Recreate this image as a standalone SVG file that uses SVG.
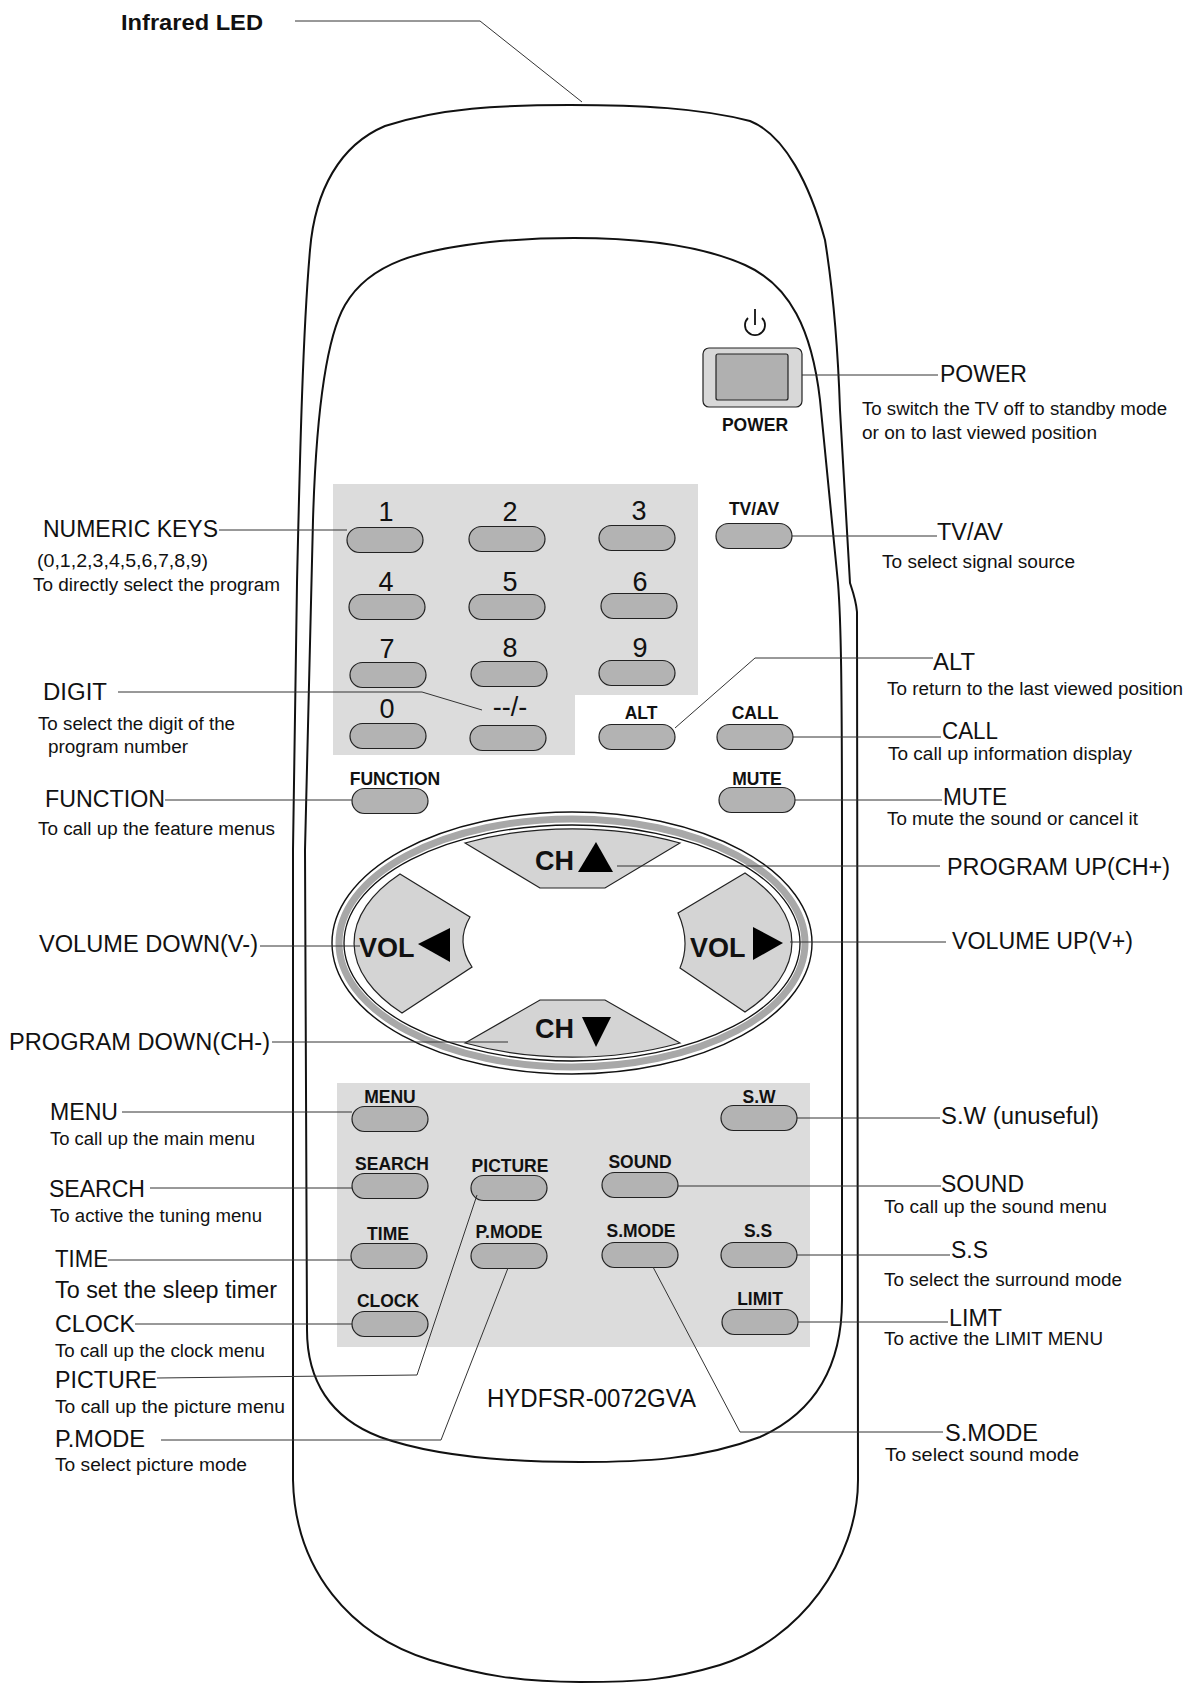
<svg xmlns="http://www.w3.org/2000/svg" xmlns:xlink="http://www.w3.org/1999/xlink" width="1189" height="1683" viewBox="0 0 1189 1683">
<style>
.lbl{font-family:"Liberation Sans",Arial,sans-serif;font-size:23px;fill:#111}
.desc{font-family:"Liberation Sans",Arial,sans-serif;font-size:18px;fill:#111}
.key{font-family:"Liberation Sans",Arial,sans-serif;font-size:17.5px;font-weight:bold;fill:#111;text-anchor:middle}
.dig{font-family:"Liberation Sans",Arial,sans-serif;font-size:27px;fill:#111;text-anchor:middle}
.big{font-family:"Liberation Sans",Arial,sans-serif;font-size:27px;font-weight:bold;fill:#111}
.outline{fill:none;stroke:#111;stroke-width:2}
.conn{fill:none;stroke:#333;stroke-width:1}
.panel{fill:#dcdcdc}
.pad{fill:#d4d4d4;stroke:#222;stroke-width:1.2}
.tri{fill:#000}
</style>
<defs>
<rect id="pill" x="-38" y="-12.5" width="76" height="25" rx="12.5" ry="12.5" fill="#b3b3b3" stroke="#222" stroke-width="1.2"/>
</defs>
<rect width="1189" height="1683" fill="#fff"/>

<g id="remote-body">
<path class="outline" d="M 570 105 C 640 105 700 108 750 121 C 785 135 810 185 825 240 C 833 290 838 350 840 410 L 850 583 C 853 592 856 600 857 612 L 858 1480 C 858 1560 800 1640 720 1665 C 670 1680 640 1682 580 1682 C 520 1682 480 1675 430 1660 C 350 1635 295 1570 293 1480 L 293 850 L 297 583 C 300 450 303 330 310 250 C 315 190 340 145 385 126 C 440 108 500 105 570 105 Z"/>
<path class="outline" d="M 574 238 C 640 238 700 245 745 265 C 790 285 812 330 820 400 L 838 583 C 841 620 842 680 842 850 L 842 1300 C 842 1360 820 1410 760 1437 C 700 1460 640 1462 580 1462 C 500 1462 430 1455 380 1437 C 330 1418 307 1380 307 1330 L 305 850 L 313 520 C 316 420 325 340 345 305 C 370 262 420 250 490 242 C 520 239 550 238 574 238 Z"/>
<polygon class="panel" points="333,484 698,484 698,695 575,695 575,755 333,755"/>
<rect class="panel" x="337" y="1083" width="473" height="264"/>
<text id="model" x="487" y="1407" font-family="Liberation Sans, Arial, sans-serif" font-size="26" fill="#111" textLength="209" lengthAdjust="spacingAndGlyphs">HYDFSR-0072GVA</text>
</g>

<g id="led-label">
<text x="121" y="30" font-family="Liberation Sans, Arial, sans-serif" font-size="22" font-weight="bold" fill="#111" textLength="142" lengthAdjust="spacingAndGlyphs">Infrared LED</text>
</g>

<g id="power">
<path d="M 748 318 A 10 10 0 1 0 762 318" fill="none" stroke="#111" stroke-width="1.8"/>
<line x1="755" y1="309" x2="755" y2="325" stroke="#111" stroke-width="1.8"/>
<rect x="703" y="348" width="99" height="59" rx="6" fill="#d8d8d8" stroke="#222" stroke-width="1.2"/>
<rect x="716" y="354" width="72" height="46" rx="2" fill="#b0b0b0" stroke="#222" stroke-width="1.2"/>
<text class="key" x="755" y="431">POWER</text>
</g>

<g id="btn-1"><use xlink:href="#pill" x="385" y="540"/><text class="dig" x="386" y="521">1</text></g>
<g id="btn-2"><use xlink:href="#pill" x="507" y="539"/><text class="dig" x="510" y="521">2</text></g>
<g id="btn-3"><use xlink:href="#pill" x="637" y="538"/><text class="dig" x="639" y="520">3</text></g>
<g id="btn-tvav"><use xlink:href="#pill" x="754" y="536"/><text class="key" x="754" y="515">TV/AV</text></g>
<g id="btn-4"><use xlink:href="#pill" x="387" y="607"/><text class="dig" x="386" y="591">4</text></g>
<g id="btn-5"><use xlink:href="#pill" x="507" y="607"/><text class="dig" x="510" y="591">5</text></g>
<g id="btn-6"><use xlink:href="#pill" x="639" y="606"/><text class="dig" x="640" y="591">6</text></g>
<g id="btn-7"><use xlink:href="#pill" x="388" y="675"/><text class="dig" x="387" y="658">7</text></g>
<g id="btn-8"><use xlink:href="#pill" x="509" y="674"/><text class="dig" x="510" y="657">8</text></g>
<g id="btn-9"><use xlink:href="#pill" x="637" y="673"/><text class="dig" x="640" y="657">9</text></g>
<g id="btn-0"><use xlink:href="#pill" x="388" y="736"/><text class="dig" x="387" y="718">0</text></g>
<g id="btn-digit"><use xlink:href="#pill" x="508" y="738"/><text class="dig" x="510" y="716">--/-</text></g>
<g id="btn-alt"><use xlink:href="#pill" x="637" y="737"/><text class="key" x="641" y="719">ALT</text></g>
<g id="btn-call"><use xlink:href="#pill" x="755" y="737"/><text class="key" x="755" y="719">CALL</text></g>
<g id="btn-function"><use xlink:href="#pill" x="390" y="801"/><text class="key" x="395" y="785">FUNCTION</text></g>
<g id="btn-mute"><use xlink:href="#pill" x="757" y="800"/><text class="key" x="757" y="785">MUTE</text></g>

<g id="dpad">
<ellipse cx="572" cy="943" rx="240" ry="131" fill="#fff" stroke="#111" stroke-width="1.4"/>
<ellipse cx="572" cy="943" rx="233" ry="124" fill="none" stroke="#a8a8a8" stroke-width="7"/>
<ellipse cx="572" cy="943" rx="228" ry="118" fill="#fff" stroke="#111" stroke-width="1.3"/>
</g>
<g id="btn-chup">
<path class="pad" d="M 540 888 L 465 843 A 222 113 0 0 1 680 843 L 605 888 Z"/>
<text class="big" x="535" y="870">CH</text>
<polygon class="tri" points="578,872 613,872 596,842"/>
</g>
<g id="btn-chdown">
<path class="pad" d="M 540 1000 L 605 1000 L 680 1043 A 222 113 0 0 1 465 1043 Z"/>
<text class="big" x="535" y="1038">CH</text>
<polygon class="tri" points="582,1017 611,1017 596,1047"/>
</g>
<g id="btn-voldown">
<path class="pad" d="M 400 874 L 470 917 Q 455 942 472 967 L 402 1013 A 222 113 0 0 1 400 874 Z"/>
<text class="big" x="359" y="957">VOL</text>
<polygon class="tri" points="418,944 450,928 450,962"/>
</g>
<g id="btn-volup">
<path class="pad" d="M 745 873 L 678 913 Q 691 942 680 968 L 745 1012 A 222 113 0 0 0 745 873 Z"/>
<text class="big" x="690" y="957">VOL</text>
<polygon class="tri" points="753,927 753,960 783,943"/>
</g>

<g id="btn-menu"><use xlink:href="#pill" x="390" y="1119"/><text class="key" x="390" y="1103">MENU</text></g>
<g id="btn-sw"><use xlink:href="#pill" x="759" y="1118"/><text class="key" x="759" y="1103">S.W</text></g>
<g id="btn-search"><use xlink:href="#pill" x="390" y="1186"/><text class="key" x="392" y="1170">SEARCH</text></g>
<g id="btn-picture"><use xlink:href="#pill" x="509" y="1188"/><text class="key" x="510" y="1172">PICTURE</text></g>
<g id="btn-sound"><use xlink:href="#pill" x="640" y="1185"/><text class="key" x="640" y="1168">SOUND</text></g>
<g id="btn-time"><use xlink:href="#pill" x="389" y="1256"/><text class="key" x="388" y="1240">TIME</text></g>
<g id="btn-pmode"><use xlink:href="#pill" x="509" y="1256"/><text class="key" x="509" y="1238">P.MODE</text></g>
<g id="btn-smode"><use xlink:href="#pill" x="640" y="1255"/><text class="key" x="641" y="1237">S.MODE</text></g>
<g id="btn-ss"><use xlink:href="#pill" x="759" y="1255"/><text class="key" x="758" y="1237">S.S</text></g>
<g id="btn-clock"><use xlink:href="#pill" x="390" y="1324"/><text class="key" x="388" y="1307">CLOCK</text></g>
<g id="btn-limit"><use xlink:href="#pill" x="760" y="1322"/><text class="key" x="760" y="1305">LIMIT</text></g>

<g id="connectors">
<path class="conn" d="M 295 21 L 480 21 L 582 102"/>
<path class="conn" d="M 802 375 L 938 375"/>
<path class="conn" d="M 219 530 L 347 530"/>
<path class="conn" d="M 792 536 L 937 536"/>
<path class="conn" d="M 118 692 L 422 692 L 482 710"/>
<path class="conn" d="M 675 728 L 755 658 L 933 658"/>
<path class="conn" d="M 793 737 L 941 737"/>
<path class="conn" d="M 165 800 L 352 800"/>
<path class="conn" d="M 795 800 L 942 800"/>
<path class="conn" d="M 617 866 L 940 866"/>
<path class="conn" d="M 260 946 L 360 946"/>
<path class="conn" d="M 790 942 L 946 942"/>
<path class="conn" d="M 272 1042 L 508 1042"/>
<path class="conn" d="M 122 1112 L 352 1112"/>
<path class="conn" d="M 797 1118 L 940 1118"/>
<path class="conn" d="M 150 1188 L 352 1188"/>
<path class="conn" d="M 678 1186 L 941 1186"/>
<path class="conn" d="M 108 1260 L 352 1260"/>
<path class="conn" d="M 797 1255 L 950 1255"/>
<path class="conn" d="M 135 1324 L 352 1324"/>
<path class="conn" d="M 798 1322 L 948 1322"/>
<path class="conn" d="M 157 1378 L 417 1375 L 477 1195"/>
<path class="conn" d="M 161 1440 L 441 1440 L 508 1268"/>
<path class="conn" d="M 653 1267 L 740 1432 L 943 1432"/>
</g>

<g id="labels-left">
<text class="lbl" x="43" y="537" textLength="175" lengthAdjust="spacingAndGlyphs">NUMERIC KEYS</text>
<text class="desc" x="37" y="567" textLength="171" lengthAdjust="spacingAndGlyphs">(0,1,2,3,4,5,6,7,8,9)</text>
<text class="desc" x="33" y="591" textLength="247" lengthAdjust="spacingAndGlyphs">To directly select the program</text>
<text class="lbl" x="43" y="700" textLength="64" lengthAdjust="spacingAndGlyphs">DIGIT</text>
<text class="desc" x="38" y="730" textLength="197" lengthAdjust="spacingAndGlyphs">To select the digit of the</text>
<text class="desc" x="48" y="753" textLength="140" lengthAdjust="spacingAndGlyphs">program number</text>
<text class="lbl" x="45" y="807" textLength="120" lengthAdjust="spacingAndGlyphs">FUNCTION</text>
<text class="desc" x="38" y="835" textLength="237" lengthAdjust="spacingAndGlyphs">To call up the feature menus</text>
<text class="lbl" x="39" y="952" textLength="219" lengthAdjust="spacingAndGlyphs">VOLUME DOWN(V-)</text>
<text class="lbl" x="9" y="1050" textLength="261" lengthAdjust="spacingAndGlyphs">PROGRAM DOWN(CH-)</text>
<text class="lbl" x="50" y="1120" textLength="68" lengthAdjust="spacingAndGlyphs">MENU</text>
<text class="desc" x="50" y="1145" textLength="205" lengthAdjust="spacingAndGlyphs">To call up the main menu</text>
<text class="lbl" x="49" y="1197" textLength="96" lengthAdjust="spacingAndGlyphs">SEARCH</text>
<text class="desc" x="50" y="1222" textLength="212" lengthAdjust="spacingAndGlyphs">To active the tuning menu</text>
<text class="lbl" x="55" y="1267" textLength="53" lengthAdjust="spacingAndGlyphs">TIME</text>
<text class="lbl" x="55" y="1298" textLength="222" lengthAdjust="spacingAndGlyphs">To set the sleep timer</text>
<text class="lbl" x="55" y="1332" textLength="80" lengthAdjust="spacingAndGlyphs">CLOCK</text>
<text class="desc" x="55" y="1357" textLength="210" lengthAdjust="spacingAndGlyphs">To call up the clock menu</text>
<text class="lbl" x="55" y="1388" textLength="102" lengthAdjust="spacingAndGlyphs">PICTURE</text>
<text class="desc" x="55" y="1413" textLength="230" lengthAdjust="spacingAndGlyphs">To call up the picture  menu</text>
<text class="lbl" x="55" y="1447" textLength="90" lengthAdjust="spacingAndGlyphs">P.MODE</text>
<text class="desc" x="55" y="1471" textLength="192" lengthAdjust="spacingAndGlyphs">To select picture mode</text>
</g>

<g id="labels-right">
<text class="lbl" x="940" y="382" textLength="87" lengthAdjust="spacingAndGlyphs">POWER</text>
<text class="desc" x="862" y="415" textLength="305" lengthAdjust="spacingAndGlyphs">To switch the TV off to standby mode</text>
<text class="desc" x="862" y="439" textLength="235" lengthAdjust="spacingAndGlyphs">or on to last viewed position</text>
<text class="lbl" x="937" y="540" textLength="66" lengthAdjust="spacingAndGlyphs">TV/AV</text>
<text class="desc" x="882" y="568" textLength="193" lengthAdjust="spacingAndGlyphs">To select signal source</text>
<text class="lbl" x="933" y="670" textLength="42" lengthAdjust="spacingAndGlyphs">ALT</text>
<text class="desc" x="887" y="695" textLength="296" lengthAdjust="spacingAndGlyphs">To return to the last viewed position</text>
<text class="lbl" x="942" y="739" textLength="56" lengthAdjust="spacingAndGlyphs">CALL</text>
<text class="desc" x="888" y="760" textLength="244" lengthAdjust="spacingAndGlyphs">To call up information display</text>
<text class="lbl" x="943" y="805" textLength="64" lengthAdjust="spacingAndGlyphs">MUTE</text>
<text class="desc" x="887" y="825" textLength="251" lengthAdjust="spacingAndGlyphs">To mute the sound or cancel it</text>
<text class="lbl" x="947" y="875" textLength="223" lengthAdjust="spacingAndGlyphs">PROGRAM UP(CH+)</text>
<text class="lbl" x="952" y="949" textLength="181" lengthAdjust="spacingAndGlyphs">VOLUME UP(V+)</text>
<text class="lbl" x="941" y="1124" textLength="158" lengthAdjust="spacingAndGlyphs">S.W (unuseful)</text>
<text class="lbl" x="941" y="1192" textLength="83" lengthAdjust="spacingAndGlyphs">SOUND</text>
<text class="desc" x="884" y="1213" textLength="223" lengthAdjust="spacingAndGlyphs">To call up  the sound menu</text>
<text class="lbl" x="951" y="1258" textLength="37" lengthAdjust="spacingAndGlyphs">S.S</text>
<text class="desc" x="884" y="1286" textLength="238" lengthAdjust="spacingAndGlyphs">To select the surround mode</text>
<text class="lbl" x="949" y="1326" textLength="53" lengthAdjust="spacingAndGlyphs">LIMT</text>
<text class="desc" x="884" y="1345" textLength="219" lengthAdjust="spacingAndGlyphs">To active the LIMIT MENU</text>
<text class="lbl" x="945" y="1441" textLength="93" lengthAdjust="spacingAndGlyphs">S.MODE</text>
<text class="desc" x="885" y="1461" textLength="194" lengthAdjust="spacingAndGlyphs">To select  sound mode</text>
</g>
</svg>
